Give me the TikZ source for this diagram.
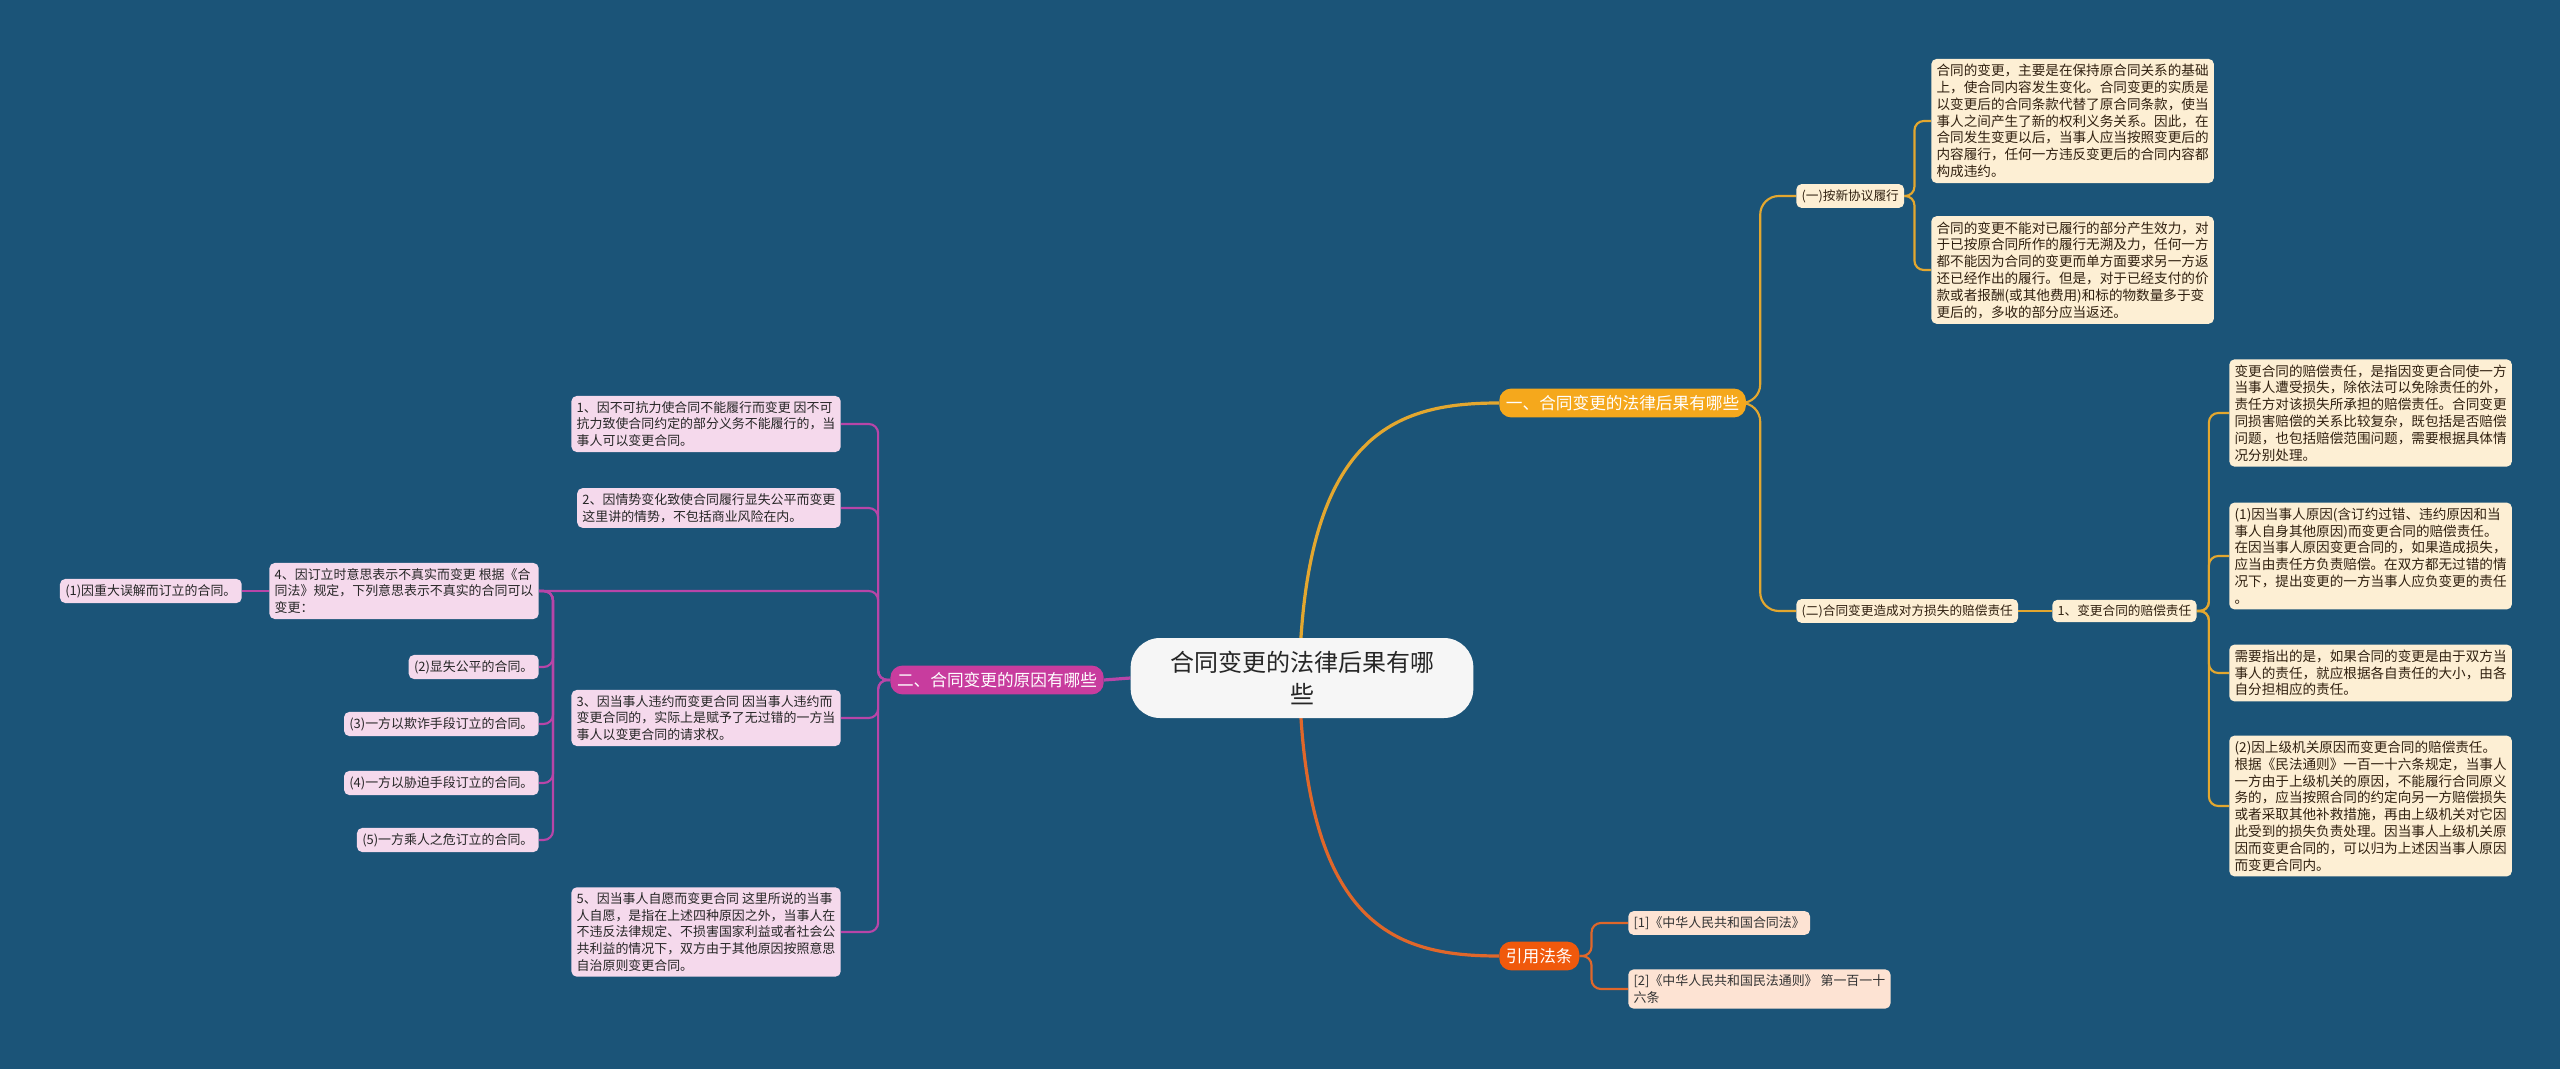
\documentclass[tikz,border=0pt]{standalone}
\usepackage{fontspec}
\setmainfont{Noto Sans CJK SC}
\usetikzlibrary{backgrounds}
\definecolor{bg}{HTML}{1B5478}
\definecolor{cream}{HTML}{FDEFD4}
\definecolor{pinkf}{HTML}{F5D9EC}
\definecolor{peach}{HTML}{FDE3D3}
\definecolor{lo}{HTML}{E3A72F}
\definecolor{lm}{HTML}{B845A8}
\definecolor{lr}{HTML}{E0672A}
\definecolor{b1c}{HTML}{F5A81C}
\definecolor{b2c}{HTML}{C83C9E}
\definecolor{b3c}{HTML}{F0590C}
\tikzset{
 leaf/.style={draw=none,rounded corners=4pt,inner sep=4pt,align=left,font=\fontsize{9.7}{12.5}\selectfont},
 rl/.style={leaf,fill=cream,text=black!75!brown,font=\fontsize{10.2}{12.6}\selectfont},
 pl/.style={leaf,fill=pinkf,text=black!85},
 ol/.style={leaf,fill=peach,text=black!80},
 br/.style={rounded corners=9pt,inner sep=5pt,text=white,font=\fontsize{12.5}{15}\selectfont},
 con/.style={line width=1.6pt,rounded corners=7pt},
}
\begin{document}
\begin{tikzpicture}[x=0.75pt,y=-0.75pt]
\useasboundingbox (0,0) rectangle (2560,1069);
\node[fill=white!93!gray,rounded corners=22pt,minimum width=257pt,minimum height=60pt,align=center,font=\fontsize{18}{24}\selectfont,text=black!85] (c) at (1302,678) {合同变更的法律后果有哪\\些};
\node[br,fill=b1c,anchor=west] (b1) at (1499,403) {一、合同变更的法律后果有哪些};
\node[br,fill=b2c,anchor=east] (b2) at (1104,680) {二、合同变更的原因有哪些};
\node[br,fill=b3c,anchor=west] (b3) at (1499,956) {引用法条};
% branch 1
\node[rl,anchor=west,font=\fontsize{9.5}{12}\selectfont] (s1) at (1796,196) {(一)按新协议履行};
\node[rl,anchor=west] (a1) at (1931,121) {合同的变更，主要是在保持原合同关系的基础\\上，使合同内容发生变化。合同变更的实质是\\以变更后的合同条款代替了原合同条款，使当\\事人之间产生了新的权利义务关系。因此，在\\合同发生变更以后，当事人应当按照变更后的\\内容履行，任何一方违反变更后的合同内容都\\构成违约。};
\node[rl,anchor=west] (a2) at (1931,270) {合同的变更不能对已履行的部分产生效力，对\\于已按原合同所作的履行无溯及力，任何一方\\都不能因为合同的变更而单方面要求另一方返\\还已经作出的履行。但是，对于已经支付的价\\款或者报酬(或其他费用)和标的物数量多于变\\更后的，多收的部分应当返还。};
\node[rl,anchor=west,font=\fontsize{9.5}{12}\selectfont] (s2) at (1796,611) {(二)合同变更造成对方损失的赔偿责任};
\node[rl,anchor=west,font=\fontsize{9.5}{12}\selectfont] (t1) at (2052,611) {1、变更合同的赔偿责任};
\node[rl,anchor=west] (d1) at (2229,413) {变更合同的赔偿责任，是指因变更合同使一方\\当事人遭受损失，除依法可以免除责任的外，\\责任方对该损失所承担的赔偿责任。合同变更\\同损害赔偿的关系比较复杂，既包括是否赔偿\\问题，也包括赔偿范围问题，需要根据具体情\\况分别处理。};
\node[rl,anchor=west] (d2) at (2229,556) {(1)因当事人原因(含订约过错、违约原因和当\\事人自身其他原因)而变更合同的赔偿责任。\\在因当事人原因变更合同的，如果造成损失，\\应当由责任方负责赔偿。在双方都无过错的情\\况下，提出变更的一方当事人应负变更的责任\\。};
\node[rl,anchor=west] (d3) at (2229,673) {需要指出的是，如果合同的变更是由于双方当\\事人的责任，就应根据各自责任的大小，由各\\自分担相应的责任。};
\node[rl,anchor=west] (d4) at (2229,806) {(2)因上级机关原因而变更合同的赔偿责任。\\根据《民法通则》一百一十六条规定，当事人\\一方由于上级机关的原因，不能履行合同原义\\务的，应当按照合同的约定向另一方赔偿损失\\或者采取其他补救措施，再由上级机关对它因\\此受到的损失负责处理。因当事人上级机关原\\因而变更合同的，可以归为上述因当事人原因\\而变更合同内。};
% branch 3
\node[ol,anchor=west] (r1) at (1628,923) {[1]《中华人民共和国合同法》};
\node[ol,anchor=west] (r2) at (1628,989) {[2]《中华人民共和国民法通则》 第一百一十\\六条};
% branch 2
\node[pl,anchor=east] (l1) at (841,424) {1、因不可抗力使合同不能履行而变更 因不可\\抗力致使合同约定的部分义务不能履行的，当\\事人可以变更合同。};
\node[pl,anchor=east] (l2) at (841,508) {2、因情势变化致使合同履行显失公平而变更\\这里讲的情势，不包括商业风险在内。};
\node[pl,anchor=east] (l3) at (841,718) {3、因当事人违约而变更合同 因当事人违约而\\变更合同的，实际上是赋予了无过错的一方当\\事人以变更合同的请求权。};
\node[pl,anchor=east] (l4) at (539,591) {4、因订立时意思表示不真实而变更 根据《合\\同法》规定，下列意思表示不真实的合同可以\\变更：};
\node[pl,anchor=east] (l5) at (841,932) {5、因当事人自愿而变更合同 这里所说的当事\\人自愿，是指在上述四种原因之外，当事人在\\不违反法律规定、不损害国家利益或者社会公\\共利益的情况下，双方由于其他原因按照意思\\自治原则变更合同。};
\node[pl,anchor=east] (k1) at (242,591) {(1)因重大误解而订立的合同。};
\node[pl,anchor=east] (k2) at (539,667) {(2)显失公平的合同。};
\node[pl,anchor=east] (k3) at (539,724) {(3)一方以欺诈手段订立的合同。};
\node[pl,anchor=east] (k4) at (539,783) {(4)一方以胁迫手段订立的合同。};
\node[pl,anchor=east] (k5) at (539,840) {(5)一方乘人之危订立的合同。};
\coordinate (c1) at (1300,655);
\coordinate (c3) at (1300,700);
\begin{scope}[on background layer]
\fill[bg] (0,0) rectangle (2560,1069);
\draw[lo,line width=2.4pt] (c1) .. controls (1310,430) and (1400,403) .. (b1.west);
\draw[lr,line width=2.4pt] (c3) .. controls (1310,930) and (1400,956) .. (b3.west);
\draw[lm,line width=2.4pt] (c.west) -- (b2.east);
\foreach \n in {s1,s2} \draw[lo,con,rounded corners=14pt] (b1.east) -- ++(14,0) |- (\n.west);
\foreach \n in {a1,a2} \draw[lo,con] (s1.east) -- ++(10,0) |- (\n.west);
\draw[lo,con] (s2.east) -- (t1.west);
\foreach \n in {d1,d2,d3,d4} \draw[lo,con] (t1.east) -- ++(12,0) |- (\n.west);
\foreach \n in {r1,r2} \draw[lr,con] (b3.east) -- ++(12,0) |- (\n.west);
\foreach \n in {l1,l2,l3,l4,l5} \draw[lm,con] (b2.west) -- ++(-12,0) |- (\n.east);
\draw[lm,con] (l4.west) -- (k1.east);
\foreach \n in {k2,k3,k4,k5} \draw[lm,con] (l4.east) -- ++(14,0) |- (\n.east);
\end{scope}
\end{tikzpicture}
\end{document}
